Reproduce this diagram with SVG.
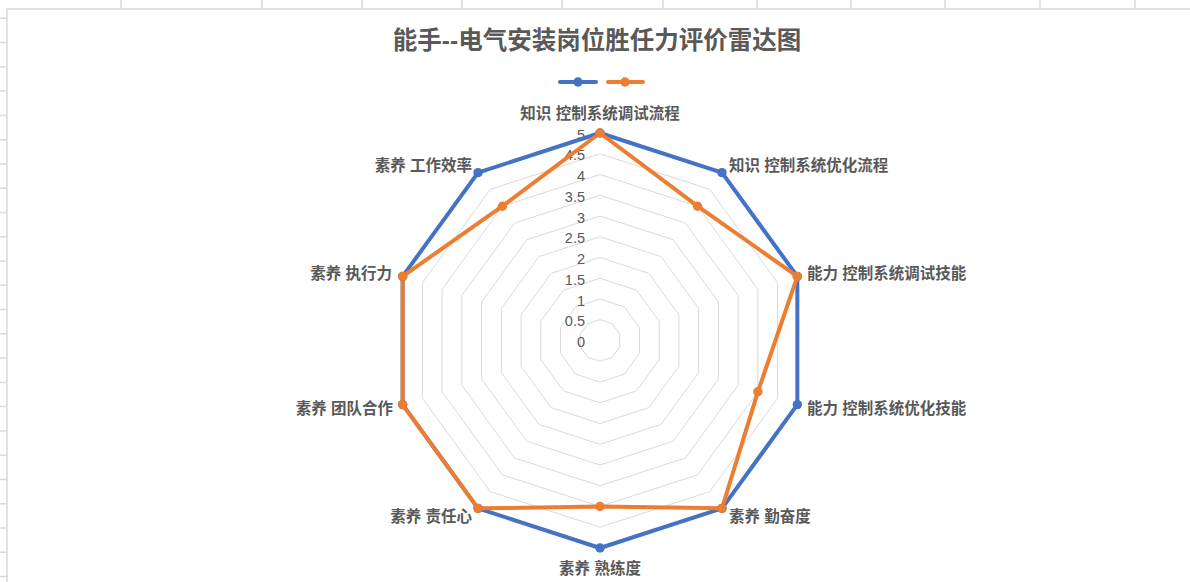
<svg xmlns="http://www.w3.org/2000/svg" width="1190" height="582" viewBox="0 0 1190 582">
<style>
.sheet{stroke:#dadada;stroke-width:1.5;fill:none}
.grid{fill:none;stroke:#d9d9d9;stroke-width:1}
.t{font-family:"Liberation Sans","Noto Sans CJK SC",sans-serif;fill:#595959}
.lbl{font-size:15.5px;font-weight:bold}
.val{font-size:14.5px;text-anchor:end}
.blue{fill:none;stroke:#4472C4;stroke-width:4;stroke-linejoin:round}
.orange{fill:none;stroke:#ED7D31;stroke-width:4;stroke-linejoin:round}
.bm{fill:#4472C4}
.om{fill:#ED7D31}
</style>
<rect x="0" y="0" width="1190" height="582" fill="#ffffff"/>
<g id="sheet-grid" class="sheet">
<path d="M121 0V9M262 0V9M362 0V9M462 0V9M562 0V9M663 0V9M757 0V9M851 0V9M945 0V9M1040 0V9M1135 0V9"/>
<path d="M0 18.3H7M0 42.6H7M0 66.9H7M0 91.1H7M0 115.4H7M0 139.7H7M0 163.9H7M0 188.2H7M0 212.5H7M0 236.7H7M0 261H7M0 285.3H7M0 309.5H7M0 333.8H7M0 358.1H7M0 382.4H7M0 406.6H7M0 430.9H7M0 455.2H7M0 479.4H7M0 503.7H7M0 528H7M0 552.2H7M0 576.5H7"/>
</g>
<rect id="chart-area" x="7" y="9" width="1200" height="600" fill="#ffffff" stroke="#d9d9d9" stroke-width="1.5"/>
<text id="title" class="t" x="597" y="48.5" font-size="24.5" font-weight="bold" text-anchor="middle">能手--电气安装岗位胜任力评价雷达图</text>
<g id="legend">
<line x1="560" y1="82" x2="596" y2="82" stroke="#4472C4" stroke-width="4" stroke-linecap="round"/>
<circle cx="578" cy="82" r="4.7" class="bm"/>
<line x1="608" y1="82" x2="643" y2="82" stroke="#ED7D31" stroke-width="4" stroke-linecap="round"/>
<circle cx="625" cy="82" r="4.7" class="om"/>
</g>
<g id="radar-grid" class="grid" transform="translate(600,340.5)">
<polygon points="0,-20.75 12.2,-16.79 19.73,-6.41 19.73,6.41 12.2,16.79 0,20.75 -12.2,16.79 -19.73,6.41 -19.73,-6.41 -12.2,-16.79"/>
<polygon points="0,-41.5 24.39,-33.57 39.47,-12.82 39.47,12.82 24.39,33.57 0,41.5 -24.39,33.57 -39.47,12.82 -39.47,-12.82 -24.39,-33.57"/>
<polygon points="0,-62.25 36.59,-50.36 59.2,-19.24 59.2,19.24 36.59,50.36 0,62.25 -36.59,50.36 -59.2,19.24 -59.2,-19.24 -36.59,-50.36"/>
<polygon points="0,-83 48.79,-67.15 78.94,-25.65 78.94,25.65 48.79,67.15 0,83 -48.79,67.15 -78.94,25.65 -78.94,-25.65 -48.79,-67.15"/>
<polygon points="0,-103.75 60.98,-83.94 98.67,-32.06 98.67,32.06 60.98,83.94 0,103.75 -60.98,83.94 -98.67,32.06 -98.67,-32.06 -60.98,-83.94"/>
<polygon points="0,-124.5 73.18,-100.72 118.41,-38.47 118.41,38.47 73.18,100.72 0,124.5 -73.18,100.72 -118.41,38.47 -118.41,-38.47 -73.18,-100.72"/>
<polygon points="0,-145.25 85.38,-117.51 138.14,-44.88 138.14,44.88 85.38,117.51 0,145.25 -85.38,117.51 -138.14,44.88 -138.14,-44.88 -85.38,-117.51"/>
<polygon points="0,-166 97.57,-134.3 157.88,-51.3 157.88,51.3 97.57,134.3 0,166 -97.57,134.3 -157.88,51.3 -157.88,-51.3 -97.57,-134.3"/>
<polygon points="0,-186.75 109.77,-151.08 177.61,-57.71 177.61,57.71 109.77,151.08 0,186.75 -109.77,151.08 -177.61,57.71 -177.61,-57.71 -109.77,-151.08"/>
<polygon points="0,-207.5 121.97,-167.87 197.34,-64.12 197.34,64.12 121.97,167.87 0,207.5 -121.97,167.87 -197.34,64.12 -197.34,-64.12 -121.97,-167.87"/>
</g>
<g id="value-axis" class="t val">
<text x="585" y="347">0</text>
<text x="585" y="326.3">0.5</text>
<text x="585" y="305.5">1</text>
<text x="585" y="284.8">1.5</text>
<text x="585" y="264">2</text>
<text x="585" y="243.3">2.5</text>
<text x="585" y="222.5">3</text>
<text x="585" y="201.8">3.5</text>
<text x="585" y="181">4</text>
<text x="585" y="160.3">4.5</text>
<text x="585" y="139.5">5</text>
</g>
<g id="connectors" transform="translate(600,340.5)">
<polygon id="series-blue" class="blue" points="0,-207.5 121.97,-167.87 197.34,-64.12 197.34,64.12 121.97,167.87 0,207.5 -121.97,167.87 -197.34,64.12 -197.34,-64.12 -121.97,-167.87"/>
<polygon id="series-orange" class="orange" points="0,-207.5 97.57,-134.3 197.34,-64.12 157.88,51.3 121.97,167.87 0,166 -121.97,167.87 -197.34,64.12 -197.34,-64.12 -97.57,-134.3"/>
<g class="bm">
<circle cx="0" cy="-207.5" r="4.7"/><circle cx="121.97" cy="-167.87" r="4.7"/><circle cx="197.34" cy="-64.12" r="4.7"/><circle cx="197.34" cy="64.12" r="4.7"/><circle cx="121.97" cy="167.87" r="4.7"/><circle cx="0" cy="207.5" r="4.7"/><circle cx="-121.97" cy="167.87" r="4.7"/><circle cx="-197.34" cy="64.12" r="4.7"/><circle cx="-197.34" cy="-64.12" r="4.7"/><circle cx="-121.97" cy="-167.87" r="4.7"/>
</g>
<g class="om">
<circle cx="0" cy="-207.5" r="4.7"/><circle cx="97.57" cy="-134.3" r="4.7"/><circle cx="197.34" cy="-64.12" r="4.7"/><circle cx="157.88" cy="51.3" r="4.7"/><circle cx="121.97" cy="167.87" r="4.7"/><circle cx="0" cy="166" r="4.7"/><circle cx="-121.97" cy="167.87" r="4.7"/><circle cx="-197.34" cy="64.12" r="4.7"/><circle cx="-197.34" cy="-64.12" r="4.7"/><circle cx="-97.57" cy="-134.3" r="4.7"/>
</g>
</g>
<g id="axis-0" class="t lbl"><text x="600" y="118.5" text-anchor="middle">知识 控制系统调试流程</text></g>
<g id="axis-1" class="t lbl"><text x="729" y="170.5">知识 控制系统优化流程</text></g>
<g id="axis-2" class="t lbl"><text x="807" y="278.5">能力 控制系统调试技能</text></g>
<g id="axis-3" class="t lbl"><text x="807" y="413.5">能力 控制系统优化技能</text></g>
<g id="axis-4" class="t lbl"><text x="729" y="521.5">素养 勤奋度</text></g>
<g id="axis-5" class="t lbl"><text x="600" y="573.5" text-anchor="middle">素养 熟练度</text></g>
<g id="axis-6" class="t lbl"><text x="472" y="521.5" text-anchor="end">素养 责任心</text></g>
<g id="axis-7" class="t lbl"><text x="393" y="413.5" text-anchor="end">素养 团队合作</text></g>
<g id="axis-8" class="t lbl"><text x="392" y="278.5" text-anchor="end">素养 执行力</text></g>
<g id="axis-9" class="t lbl"><text x="472" y="170.5" text-anchor="end">素养 工作效率</text></g>
</svg>
